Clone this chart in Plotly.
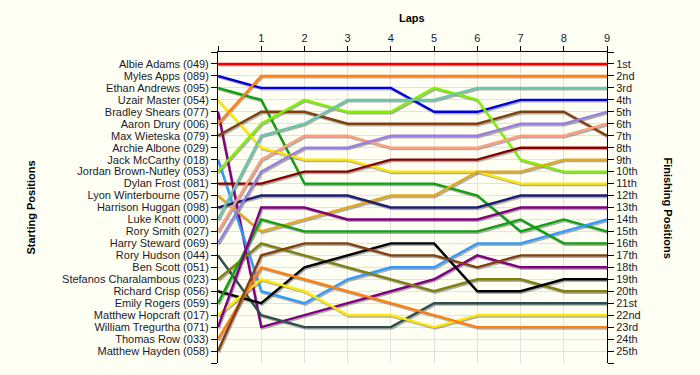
import plotly.graph_objects as go

laps = list(range(10))
lap_ticks = [str(i) if i > 0 else "" for i in range(10)]

starting_names = [
    "Albie Adams (049)", "Myles Apps (089)", "Ethan Andrews (095)", "Uzair Master (054)",
    "Bradley Shears (077)", "Aaron Drury (006)", "Max Wieteska (079)", "Archie Albone (029)",
    "Jack McCarthy (018)", "Jordan Brown-Nutley (053)", "Dylan Frost (081)",
    "Lyon Winterbourne (057)", "Harrison Huggan (098)", "Luke Knott (000)", "Rory Smith (027)",
    "Harry Steward (069)", "Rory Hudson (044)", "Ben Scott (051)",
    "Stefanos Charalambous (023)", "Richard Crisp (056)", "Emily Rogers (059)",
    "Matthew Hopcraft (017)", "William Tregurtha (071)", "Thomas Row (033)",
    "Matthew Hayden (058)",
]
finishing_labels = ["1st", "2nd", "3rd"] + [f"{i}th" for i in range(4, 21)] + \
    ["21st", "22nd", "23rd", "24th", "25th"]

# positions per lap (lap 0 = starting position)
albie_adams = [1, 1, 1, 1, 1, 1, 1, 1, 1, 1]
myles_apps = [2, 3, 3, 3, 3, 5, 5, 4, 4, 4]
ethan_andrews = [3, 4, 11, 11, 11, 11, 12, 15, 14, 15]
uzair_master = [4, 8, 9, 9, 10, 10, 10, 11, 11, 11]
bradley_shears = [5, 23, 22, 21, 20, 19, 17, 18, 18, 18]
aaron_drury = [6, 2, 2, 2, 2, 2, 2, 2, 2, 2]
max_wieteska = [7, 5, 5, 6, 6, 6, 6, 5, 5, 7]
jack_mccarthy = [9, 20, 21, 19, 18, 18, 16, 16, 15, 14]
jordan_brown_nutley = [10, 6, 4, 5, 5, 3, 4, 9, 10, 10]
dylan_frost = [11, 11, 10, 10, 9, 9, 9, 8, 8, 8]
lyon_winterbourne = [12, 15, 14, 13, 12, 12, 10, 10, 9, 9]
harrison_huggan = [13, 12, 12, 12, 13, 13, 13, 12, 12, 12]
luke_knott = [14, 7, 6, 4, 4, 4, 3, 3, 3, 3]
rory_smith = [15, 9, 7, 7, 8, 8, 8, 7, 7, 6]
harry_steward = [16, 10, 8, 8, 7, 7, 7, 6, 6, 5]
rory_hudson = [17, 22, 23, 23, 23, 21, 21, 21, 21, 21]
stefanos_charalambous = [19, 16, 17, 18, 19, 20, 19, 19, 20, 20]
richard_crisp = [20, 21, 18, 17, 16, 16, 20, 20, 19, 19]
emily_rogers = [21, 14, 15, 15, 15, 15, 15, 14, 16, 16]
matthew_hopcraft = [22, 19, 20, 22, 22, 23, 22, 22, 22, 22]
william_tregurtha = [23, 13, 13, 14, 14, 14, 14, 13, 13, 13]
thomas_row = [24, 18, 19, 20, 21, 22, 23, 23, 23, 23]
matthew_hayden = [25, 17, 16, 16, 17, 17, 18, 17, 17, 17]

series = [
    ("Albie Adams (049)", albie_adams, "#F00000"),
    ("Myles Apps (089)", myles_apps, "#0000E0"),
    ("Ethan Andrews (095)", ethan_andrews, "#10A010"),
    ("Uzair Master (054)", uzair_master, "#FFE800"),
    ("Bradley Shears (077)", bradley_shears, "#800080"),
    ("Aaron Drury (006)", aaron_drury, "#FF8010"),
    ("Max Wieteska (079)", max_wieteska, "#804010"),
    ("Jack McCarthy (018)", jack_mccarthy, "#3399FF"),
    ("Jordan Brown-Nutley (053)", jordan_brown_nutley, "#80F000"),
    ("Dylan Frost (081)", dylan_frost, "#880000"),
    ("Lyon Winterbourne (057)", lyon_winterbourne, "#E0A820"),
    ("Harrison Huggan (098)", harrison_huggan, "#1E1E70"),
    ("Luke Knott (000)", luke_knott, "#6CC4AA"),
    ("Rory Smith (027)", rory_smith, "#F8A080"),
    ("Harry Steward (069)", harry_steward, "#9880DC"),
    ("Rory Hudson (044)", rory_hudson, "#2F4F4F"),
    ("Stefanos Charalambous (023)", stefanos_charalambous, "#808010"),
    ("Richard Crisp (056)", richard_crisp, "#000000"),
    ("Emily Rogers (059)", emily_rogers, "#10A010"),
    ("Matthew Hopcraft (017)", matthew_hopcraft, "#FFE800"),
    ("William Tregurtha (071)", william_tregurtha, "#800080"),
    ("Thomas Row (033)", thomas_row, "#FF8010"),
    ("Matthew Hayden (058)", matthew_hayden, "#804010"),
]

fig = go.Figure()

# drop shadows
for name, pos, color in series:
    fig.add_trace(go.Scatter(
        x=[l + 0.025 for l in laps], y=[p + 0.13 for p in pos], mode="lines",
        line=dict(color="rgba(110,110,110,0.55)", width=2.2),
        hoverinfo="skip", showlegend=False, cliponaxis=False,
    ))
for name, pos, color in series:
    fig.add_trace(go.Scatter(
        x=laps, y=pos, mode="lines", name=name,
        line=dict(color=color, width=2.4), showlegend=False, cliponaxis=False,
    ))
# invisible trace for right axis
fig.add_trace(go.Scatter(x=[0], y=[1], yaxis="y2", mode="markers",
                         marker=dict(opacity=0), showlegend=False, hoverinfo="skip"))

ypos = list(range(0, 27))
left_text = [""] + starting_names + [""]
right_text = [""] + finishing_labels + [""]

font = dict(family="Liberation Sans, Arial, sans-serif", size=11, color="#1a1a2a")
title_font = dict(family="Liberation Sans, Arial", size=11, color="black")
bg = "#FFFFF4"

fig.update_layout(
    width=700, height=375,
    margin=dict(l=218, r=93, t=52, b=12, autoexpand=False),
    paper_bgcolor=bg, plot_bgcolor=bg,
    font=font,
    xaxis=dict(
        side="top", range=[0, 9], tickvals=laps, ticktext=lap_ticks,
        showline=True, linecolor="black", linewidth=1, mirror=False,
        ticks="outside", ticklen=5, tickcolor="black",
        showgrid=True, gridcolor="#E2E2E2", gridwidth=1, zeroline=False,
        tickfont=font, automargin=False,
    ),
    yaxis=dict(
        range=[26, 0], tickvals=ypos, ticktext=left_text,
        showline=True, linecolor="black", linewidth=1,
        ticks="outside", ticklen=6, tickcolor="black",
        showgrid=True, gridcolor="#E2E2E2", gridwidth=1, zeroline=False,
        tickfont=font, automargin=False,
    ),
    yaxis2=dict(
        range=[26, 0], tickvals=ypos, ticktext=right_text, overlaying="y",
        side="right", anchor="x",
        showline=True, linecolor="black", linewidth=1,
        ticks="outside", ticklen=6, tickcolor="black",
        showgrid=False, zeroline=False, tickfont=font, automargin=False,
    ),
    annotations=[
        dict(text="<b>Laps</b>", xref="paper", yref="paper", x=0.499, y=1.109,
             xanchor="center", yanchor="middle", showarrow=False, font=title_font),
        dict(text="<b>Starting Positions</b>", xref="paper", yref="paper", x=-0.483, y=0.5,
             xanchor="center", yanchor="middle", textangle=-90, showarrow=False,
             font=title_font),
        dict(text="<b>Finishing Positions</b>", xref="paper", yref="paper", x=1.157, y=0.5,
             xanchor="center", yanchor="middle", textangle=90, showarrow=False,
             font=title_font),
    ],
)

fig.write_html(
    "out.html",
    config={"displayModeBar": False},
    post_script="document.body.style.margin='0';document.body.style.background='" + bg + "';",
)
